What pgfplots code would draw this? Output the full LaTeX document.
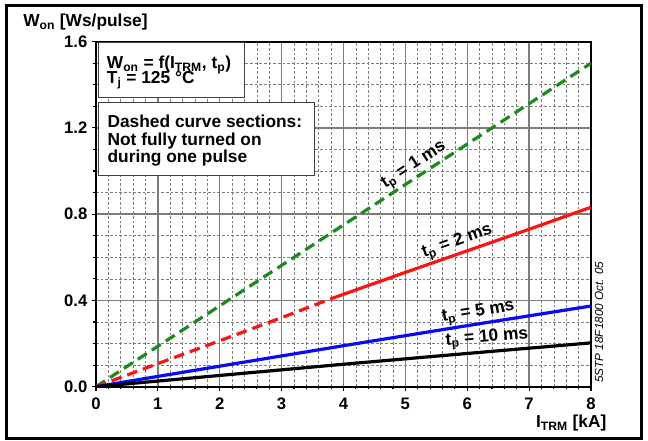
\documentclass[border=0pt]{standalone}
\usepackage{fontspec}
\setmainfont{Liberation Sans}
\usepackage{pgfplots}
\pgfplotsset{compat=1.18}
\definecolor{cgreen}{RGB}{28,138,28}
\definecolor{cred}{RGB}{250,20,20}
\definecolor{cblue}{RGB}{10,10,245}
\definecolor{cgrid}{RGB}{125,125,125}
\newcommand{\lab}{\fontsize{13}{13}\selectfont\bfseries}
\begin{document}
\begin{tikzpicture}
\useasboundingbox (-72pt,-40.7pt) rectangle (414pt,290pt);
\begin{axis}[
  scale only axis, width=371.25pt, height=258.75pt,
  xmin=0, xmax=8, ymin=0, ymax=1.6,
  xtick={0,1,2,3,4,5,6,7,8},
  ytick={0,0.4,0.8,1.2,1.6},
  minor x tick num=4, minor y tick num=3,
  grid=both,
  major grid style={cgrid, line width=1pt},
  minor grid style={cgrid, line width=0.5pt, dash pattern=on 2pt off 1.5pt},
  axis line style={black, line width=1.5pt},
  tick style={black, line width=0.8pt},
  tick align=outside, tick pos=left,
  major tick length=3pt, minor tick length=2pt,
  /pgf/number format/assume math mode=true,
  yticklabel style={/pgf/number format/fixed, /pgf/number format/fixed zerofill, /pgf/number format/precision=1},
  xticklabel style={yshift=-2pt},
  ticklabel style={font=\fontsize{12.5}{12.5}\selectfont\bfseries},
]
\addplot[cgreen, line width=2.4pt, dash pattern=on 8pt off 4.5pt] coordinates {(0,0) (2,0.375) (4,0.75) (6,1.125) (8,1.5)};
\addplot[cred, line width=2.4pt, dash pattern=on 8pt off 4.5pt] coordinates {(0,0) (1,0.107) (2,0.213) (3,0.32) (3.8,0.408)};
\addplot[cred, line width=2.4pt] coordinates {(3.8,0.408) (5,0.53) (6,0.63) (7,0.73) (8,0.832)};
\addplot[cblue, line width=2.4pt] coordinates {(0,0) (2,0.095) (4,0.19) (6,0.283) (8,0.374)};
\addplot[black, line width=2.4pt] coordinates {(0,0) (2,0.052) (4,0.104) (6,0.154) (8,0.203)};

\draw[draw=gray!50!black, line width=0.8pt, fill=white] (axis cs:0.037,1.343) rectangle (axis cs:2.407,1.597);
\draw[draw=gray!50!black, line width=0.8pt, fill=white] (axis cs:0.037,0.980) rectangle (axis cs:3.538,1.319);
\node[anchor=base west, inner sep=0pt, font=\lab] at (axis cs:0.173,1.475) {W\textsubscript{on} = f(I\textsubscript{TRM}, t\textsubscript{p})};
\node[anchor=base west, inner sep=0pt, font=\lab] at (axis cs:0.173,1.407) {T\textsubscript{j} = 125 °C};
\node[anchor=base west, inner sep=0pt, font=\lab] at (axis cs:0.183,1.201) {Dashed curve sections:};
\node[anchor=base west, inner sep=0pt, font=\lab] at (axis cs:0.183,1.119) {Not fully turned on};
\node[anchor=base west, inner sep=0pt, font=\lab] at (axis cs:0.183,1.039) {during one pulse};

\node[rotate=33.2, inner sep=0pt, font=\lab] at (axis cs:5.14,1.026) {t\textsubscript{p} = 1 ms};
\node[rotate=19.9, inner sep=0pt, font=\lab] at (axis cs:5.84,0.671) {t\textsubscript{p} = 2 ms};
\node[rotate=9.3, inner sep=0pt, font=\lab] at (axis cs:6.18,0.344) {t\textsubscript{p} = 5 ms};
\node[rotate=5.1, inner sep=0pt, font=\lab] at (axis cs:6.32,0.224) {t\textsubscript{p} = 10 ms};
\end{axis}
\draw[black, line width=2.25pt] (-67.1pt,-38.85pt) rectangle (409.1pt,285.9pt);
\node[anchor=base west, inner sep=0pt, font=\lab] at (-54.75pt,270pt) {W\textsubscript{on} [Ws/pulse]};
\node[anchor=base east, inner sep=0pt, font=\lab] at (383pt,-31pt) {I\textsubscript{TRM} [kA]};
\node[anchor=base west, rotate=90, inner sep=0pt, font=\fontsize{8.8}{9}\selectfont\itshape] at (380.25pt,2.8pt) {5STP 18F1800 Oct. 05};
\end{tikzpicture}
\end{document}
